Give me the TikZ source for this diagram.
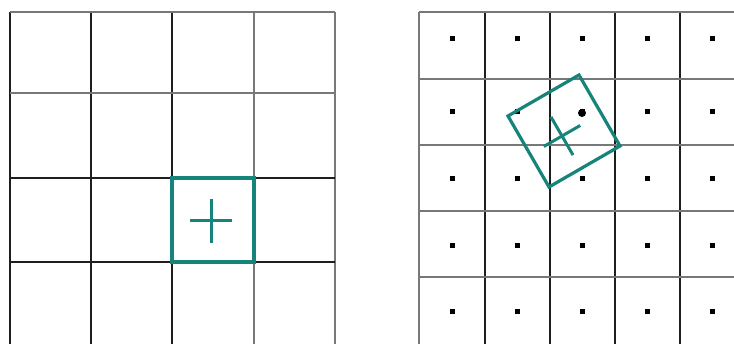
\documentclass[tikz,border=0pt]{standalone}
\definecolor{tealbox}{RGB}{22,132,122}
\definecolor{gline}{RGB}{120,120,120}
\definecolor{dline}{RGB}{30,30,30}
\tikzset{
  gridg/.style={draw=gline, line width=2.2pt},
  gridd/.style={draw=dline, line width=1.7pt},
  tealsq/.style={draw=tealbox, line width=3.2pt},
  tealplus/.style={draw=tealbox, line width=3pt},
  pix/.style={fill=black},
}
\begin{document}
\begin{tikzpicture}[x=1pt,y=-1pt]
\useasboundingbox[fill=white] (0,0) rectangle (734,344);
% ---------- left grid ----------
\foreach \x/\s in {10/gridd,91/gridd,172/gridd,254/gridg,335/gridg}
  \draw[\s] (\x,12) -- (\x,344);
\foreach \y/\s in {12/gridg,93/gridg,178/gridd,262/gridd}
  \draw[\s] (10,\y) -- (335,\y);
% teal square and plus
\draw[tealsq] (172,178) rectangle (254,262);
\draw[tealplus] (190,221) -- (232,221);
\draw[tealplus] (211,199) -- (211,243);
% ---------- right grid ----------
\foreach \x/\s in {419/gridg,485/gridd,550/gridd,615/gridd,680/gridd}
  \draw[\s] (\x,12) -- (\x,344);
\foreach \y/\s in {12/gridg,79/gridg,145/gridg,211/gridg,277/gridg}
  \draw[\s] (419,\y) -- (734,\y);
% dots at cell centres
\foreach \x in {452,517,582,647,712}
  \foreach \y in {39,112,179,246,312}
    \fill[pix] (\x-2.5,\y-2.5) rectangle (\x+2.5,\y+2.5);
\fill[pix] (582,113) circle (4);
% rotated teal square with plus
\begin{scope}[shift={(564,131)},rotate=30]
  \draw[tealsq] (-41,-41) rectangle (41,41);
\end{scope}
\begin{scope}[shift={(562,136)},rotate=30]
  \draw[tealplus] (-21,0) -- (21,0);
  \draw[tealplus] (0,-22) -- (0,22);
\end{scope}
\end{tikzpicture}
\end{document}
